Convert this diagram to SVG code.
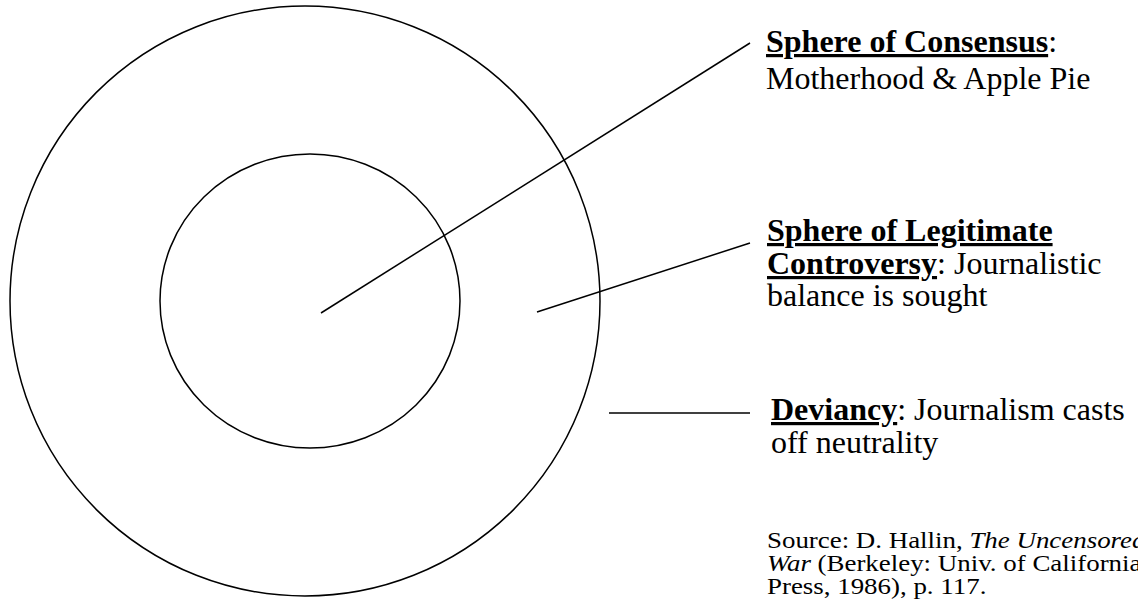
<svg xmlns="http://www.w3.org/2000/svg" width="1138" height="611" viewBox="0 0 1138 611">
<style>
.ring{fill:none;stroke:#000;stroke-width:1.5}
.conn{stroke:#000;stroke-width:1.5;fill:none}
.t{font-family:"Liberation Serif","Times New Roman",serif;font-size:32px;fill:#000}
.b{font-weight:bold;text-decoration:underline}
.s{font-family:"Liberation Serif","Times New Roman",serif;font-size:23px;fill:#000}
</style>
<rect width="1138" height="611" fill="#fff"/>
<g id="outer-sphere"><ellipse class="ring" cx="305" cy="301" rx="295" ry="295"/></g>
<g id="inner-sphere"><ellipse class="ring" cx="310" cy="301" rx="150" ry="147"/></g>
<g id="connectors">
<line class="conn" x1="321" y1="313" x2="750" y2="43"/>
<line class="conn" x1="537" y1="312" x2="750" y2="243"/>
<line class="conn" x1="609" y1="413" x2="750" y2="413"/>
</g>
<g id="label-consensus">
<text class="t" x="766" y="52"><tspan class="b">Sphere of Consensus</tspan>:</text>
<text class="t" x="766" y="89">Motherhood &amp; Apple Pie</text>
</g>
<g id="label-legitimate">
<text class="t" x="767" y="241"><tspan class="b">Sphere of Legitimate</tspan></text>
<text class="t" x="767" y="274"><tspan class="b">Controversy</tspan>: Journalistic</text>
<text class="t" x="767" y="306">balance is sought</text>
</g>
<g id="label-deviancy">
<text class="t" x="771" y="420"><tspan class="b">Deviancy</tspan>: Journalism casts</text>
<text class="t" x="771" y="453">off neutrality</text>
</g>
<g id="source" transform="translate(767,0) scale(1.17,1)">
<text class="s" x="0" y="548">Source: D. Hallin, <tspan font-style="italic">The Uncensored</tspan></text>
<text class="s" x="0" y="571"><tspan font-style="italic">War</tspan> (Berkeley: Univ. of California</text>
<text class="s" x="0" y="594">Press, 1986), p. 117.</text>
</g>
</svg>
